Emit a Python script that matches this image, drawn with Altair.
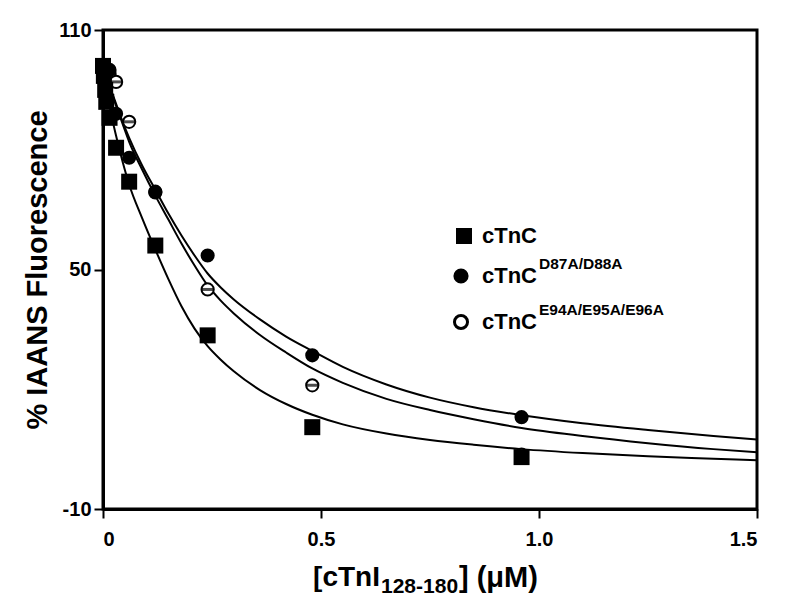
import altair as alt
import pandas as pd

# ---------------- data ----------------
# cTnC (filled squares)
sq_x = [0.0, 0.002, 0.005, 0.0075, 0.015, 0.03, 0.06, 0.12, 0.24, 0.48, 0.96]
sq_y = [101.0, 98.5, 95.0, 92.0, 88.0, 80.5, 72.0, 56.0, 33.5, 10.5, 3.0]
# cTnC D87A/D88A (filled circles)
fc_x = [0.0, 0.015, 0.03, 0.06, 0.12, 0.24, 0.48, 0.96]
fc_y = [101.0, 100.0, 89.0, 78.0, 69.5, 53.5, 28.5, 13.0]
# cTnC E94A/E95A/E96A (open circles)
oc_x = [0.0, 0.015, 0.03, 0.06, 0.12, 0.24, 0.48, 0.96]
oc_y = [101.0, 99.0, 97.0, 87.0, 69.3, 45.0, 21.0, 3.6]

# fitted curves
curve_x = [0.0, 0.015, 0.03, 0.045, 0.06, 0.09, 0.12, 0.15, 0.18, 0.21, 0.24, 0.27,
           0.3, 0.36, 0.42, 0.48, 0.55, 0.65, 0.75, 0.85, 0.96, 1.1, 1.25, 1.4, 1.5]
curve_ctnc = [101, 91, 83.5, 77, 71.3, 62.8, 55, 47.6, 40.8, 35.2, 30.8, 27.4,
              24.5, 19.8, 16.3, 13.6, 11.2, 8.9, 7.3, 6.1, 5.0, 4.0, 3.2, 2.6, 2.2]
curve_d87 = [101, 96, 91.5, 87, 83, 76, 70, 64, 58.5, 53.5, 49, 45.5,
             42.5, 37.5, 33.2, 29.6, 25.6, 21.2, 17.9, 15.5, 13.5, 11.5, 9.8, 8.3, 7.4]
curve_e94 = [101, 96, 91, 86.5, 82, 75, 68.5, 62.5, 56.5, 51, 46, 42.2,
             39, 33.6, 29.2, 25.2, 21.6, 17.6, 14.8, 12.5, 10.3, 8.3, 6.5, 5.0, 4.2]

x_ticks = [0, 0.5, 1.0, 1.5]
y_ticks = [-10, 50, 110]

legend_main = "cTnC"
legend_sups = ["", "D87A/D88A", "E94A/E95A/E96A"]
y_title = "% IAANS Fluorescence"
x_title_parts = ["[cTnI", "128-180", "] (\u03bcM)"]

# ---------------- chart ----------------
FONT = "Liberation Sans"
W, H = 654, 479

sq_df = pd.DataFrame({"x": sq_x, "y": sq_y})
fc_df = pd.DataFrame({"x": fc_x, "y": fc_y})
oc_df = pd.DataFrame({"x": oc_x, "y": oc_y})
curves_df = pd.concat([
    pd.DataFrame({"x": curve_x, "y": curve_ctnc, "s": "cTnC"}),
    pd.DataFrame({"x": curve_x, "y": curve_d87, "s": "D87A"}),
    pd.DataFrame({"x": curve_x, "y": curve_e94, "s": "E94A"}),
])

xs = alt.Scale(domain=[0, 1.5], nice=False, zero=False)
ys = alt.Scale(domain=[-10, 110], nice=False, zero=False)

axis_common = dict(
    title=None, grid=False, domainWidth=3, domainColor="black",
    tickColor="black", tickWidth=2, tickSize=9,
    labelFont=FONT, labelFontWeight="bold", labelFontSize=20, labelColor="black",
)
X = alt.X("x:Q", scale=xs, axis=alt.Axis(
    values=x_ticks, labelPadding=11,
    labelExpr="datum.value == 0 ? '0' : format(datum.value, '.1f')", **axis_common))
Y = alt.Y("y:Q", scale=ys, axis=alt.Axis(
    values=y_ticks, labelPadding=3, labelExpr="'' + datum.value", **axis_common))

curves = alt.Chart(curves_df).mark_line(
    color="black", strokeWidth=2, interpolate="monotone"
).encode(x=X, y=Y, detail="s:N")

open_c = alt.Chart(oc_df).mark_point(
    shape="circle", filled=True, fill="white", stroke="black", strokeWidth=2,
    size=150, opacity=1
).encode(x=X, y=Y)
open_bar = alt.Chart(oc_df).mark_tick(
    orient="horizontal", color="black", size=12, thickness=3
).encode(x=X, y=Y)
filled_c = alt.Chart(fc_df).mark_circle(color="black", size=200, opacity=1).encode(x=X, y=Y)
squares = alt.Chart(sq_df).mark_point(
    shape="square", filled=True, color="black", size=256, opacity=1
).encode(x=X, y=Y)

one = pd.DataFrame({"a": [0]})


def txt(text, x, y, size, align="left", angle=0, baseline="middle"):
    return alt.Chart(one).mark_text(
        font=FONT, fontWeight="bold", fontSize=size, color="black",
        align=align, baseline=baseline, angle=angle
    ).encode(x=alt.value(x), y=alt.value(y), text=alt.value(text))


# legend
row_y = [206, 246, 292]
leg = [
    alt.Chart(one).mark_point(shape="square", filled=True, color="black", size=256, opacity=1)
    .encode(x=alt.value(361), y=alt.value(row_y[0])),
    alt.Chart(one).mark_circle(color="black", size=230, opacity=1)
    .encode(x=alt.value(358), y=alt.value(row_y[1])),
    alt.Chart(one).mark_point(shape="circle", filled=True, fill="white", stroke="black",
                              strokeWidth=3, size=170, opacity=1)
    .encode(x=alt.value(358), y=alt.value(row_y[2])),
]
for i, sup in enumerate(legend_sups):
    leg.append(txt(legend_main, 379, row_y[i], 22))
    if sup:
        leg.append(txt(sup, 436, row_y[i] - 12, 15.5))

titles = [
    txt(y_title, -65, 240, 29, align="center", angle=270),
    txt(x_title_parts[0], 277, 548, 28, align="right"),
    txt(x_title_parts[1], 278, 557, 21, align="left"),
    txt(x_title_parts[2], 356, 548, 29, align="left"),
]

chart = alt.layer(
    curves, open_c, open_bar, filled_c, squares, *leg, *titles
).properties(
    width=W, height=H,
    padding={"left": 95, "top": 22, "right": 20, "bottom": 95},
    autosize=alt.AutoSizeParams(type="none"),
    background="white",
).configure_view(
    stroke="black", strokeWidth=3
)

chart.save("out.html", embed_options={"renderer": "svg", "actions": False})
